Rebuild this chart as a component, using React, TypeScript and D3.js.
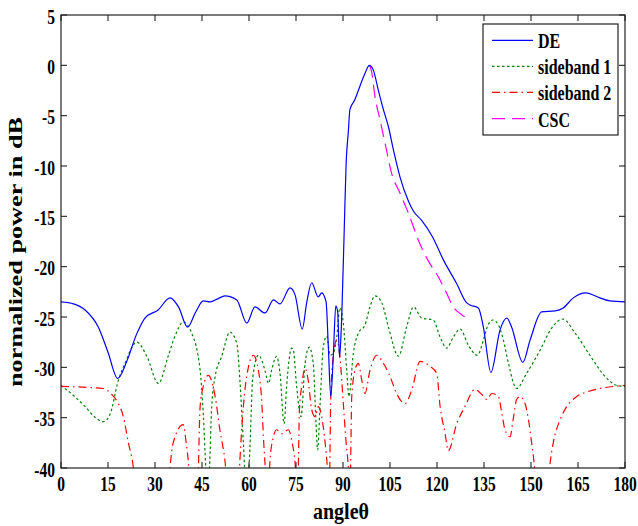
import React from "react";
import * as d3 from "d3";

const xTicks = [0, 15, 30, 45, 60, 75, 90, 105, 120, 135, 150, 165, 180];
const yTicks = [5, 0, -5, -10, -15, -20, -25, -30, -35, -40];

const seriesNames = ["DE", "sideband 1", "sideband 2", "CSC"];

const deAngles = [0, 4, 7.7, 11.9, 15, 18.1, 21, 24, 26.8, 31, 34.8, 37.5, 40.4, 43, 45.4, 47.6, 50, 52.3, 56.1, 59.3, 61.9, 65.1, 67.8, 69.9, 73.1, 74.7, 77.0, 78.4, 80.0, 82.1, 83.2, 84.6, 85.3, 86.1, 86.9, 87.7, 88.3, 88.9, 89.4, 90.3, 91.0, 91.7, 92.2, 93.8, 94.9, 97.0, 98.4, 99.7, 101.3, 102.9, 104.5, 106.1, 108.2, 110.9, 112.5, 115.1, 118.5, 122.0, 126.3, 129.5, 130.5, 133.2, 134.8, 137.2, 140.1, 142.3, 143.8, 147.4, 149.7, 153.4, 157.7, 160.3, 163.5, 167.5, 172.0, 175.2, 180];
const deValues = [-23.5, -23.7, -24.3, -26.0, -28.5, -31.1, -29.4, -26.8, -25.1, -24.3, -23.1, -24.0, -26.0, -24.5, -23.4, -23.5, -23.2, -22.9, -23.3, -25.6, -24.0, -24.6, -23.3, -23.7, -22.1, -22.8, -26.2, -23.6, -21.6, -23.0, -22.6, -23.5, -27.8, -32.9, -28.9, -23.9, -24.5, -29.0, -26.5, -17.4, -9.7, -6.6, -4.4, -3.4, -2.5, -0.8, 0, -0.5, -2.5, -4.4, -6.1, -8.4, -11.1, -13.5, -14.5, -15.4, -17.0, -19.3, -21.7, -23.6, -23.8, -24.1, -26.0, -30.5, -26.3, -25.1, -26.0, -29.5, -27.3, -24.5, -24.4, -24.1, -23.1, -22.6, -23.1, -23.4, -23.5];

const sb1Angles = [0, 4, 7.7, 11, 13.5, 15.6, 18.3, 20.4, 24.2, 27.4, 31.1, 34.2, 36.5, 39.0, 41.7, 44.4, 45.4, 46.2, 46.8, 47.4, 48.1, 49.2, 51.3, 53.9, 56.1, 57.1, 58.2, 59.3, 60.3, 61.2, 63.0, 65.1, 66.2, 67.2, 68.8, 69.9, 71.2, 72.0, 73.6, 74.1, 75.2, 76.6, 77.9, 79.2, 80.5, 81.4, 81.9, 82.7, 83.7, 84.8, 85.9, 86.9, 88.0, 89.0, 90.1, 91.2, 91.9, 93.3, 94.9, 97.0, 98.6, 100.2, 102.4, 104.5, 107.7, 110.3, 112.5, 115.1, 118.8, 121.0, 123.1, 125.2, 127.4, 130.0, 132.9, 134.8, 135.9, 137.8, 139.6, 141.2, 142.8, 145.4, 148.6, 152.9, 156.6, 160.1, 164.1, 168.8, 173.6, 177.4, 180];
const sb1Values = [-31.8, -32.8, -33.9, -35.0, -35.4, -34.7, -31.3, -29.6, -27.5, -28.9, -31.6, -28.9, -26.8, -25.5, -26.6, -30.3, -34.6, -39.9, -43, -40, -33.9, -30.9, -28.9, -26.5, -27.6, -31.3, -37.5, -43, -38, -31, -28.8, -30.3, -31.6, -30.3, -28.9, -30.6, -35.6, -31.9, -28.1, -28.2, -31.9, -34.9, -29.6, -28.0, -29.6, -35.6, -38.2, -33.6, -28.0, -26.9, -28.8, -28.6, -27.0, -24.1, -25.6, -30.3, -32.9, -28.6, -26.6, -25.8, -24.0, -22.9, -23.6, -26.0, -28.9, -26.0, -24.0, -25.1, -25.3, -27.0, -28.1, -27.0, -26.2, -27.8, -28.8, -27.3, -26.1, -25.3, -25.8, -27.3, -29.6, -32.1, -30.6, -28.3, -26.1, -25.2, -26.6, -28.8, -30.9, -31.8, -31.9];

const sb2Angles = [0, 13.5, 16.2, 18.3, 19.9, 21.5, 23.1, 24, 34, 34.8, 35.8, 39.0, 40.1, 40.6, 41.5, 43.5, 44.4, 45.4, 47.0, 49.2, 50.7, 52.3, 53.5, 56.5, 57.1, 58.2, 59.8, 61.4, 63.0, 64.1, 64.6, 65.1, 66, 66.7, 67.8, 68.8, 70.4, 72.6, 73.6, 74.7, 75.5, 76.1, 76.8, 77.9, 78.9, 80.0, 81.1, 82.1, 83.2, 84.3, 85.0, 85.6, 86.1, 86.9, 88.0, 89.0, 90.1, 91.0, 91.7, 92.2, 92.8, 93.8, 94.9, 96.0, 97.0, 98.6, 100.8, 102.9, 105.0, 107.1, 109.8, 111.9, 114.6, 117.8, 119.9, 121.0, 122.6, 123.6, 126.3, 128.9, 132.1, 134.3, 135.9, 137.5, 139.6, 140.7, 141.7, 143.3, 144.3, 145.4, 146.5, 148.1, 149.2, 150.2, 151.0, 152, 155, 156.1, 157.1, 159.3, 161.4, 164.6, 168.3, 172.0, 176.3, 180];
const sb2Values = [-31.9, -32.1, -32.7, -33.6, -34.9, -37.5, -40, -43, -43, -39.9, -37.5, -35.7, -37.9, -39.2, -43, -43, -33.9, -31.9, -30.8, -32.9, -36.2, -39.2, -43, -43, -39.2, -33.9, -30.0, -28.8, -30.3, -33.6, -36.9, -39.5, -43, -39.2, -36.9, -36.2, -36.6, -36.2, -37.2, -39.5, -43, -34.2, -31.9, -30.1, -31.3, -34.2, -34.9, -33.9, -34.9, -37.5, -39.9, -43, -32.9, -28.9, -27.3, -28.9, -33.6, -37.5, -39.9, -43, -32.9, -30.3, -29.6, -31.3, -32.6, -30.3, -28.8, -29.6, -30.9, -32.6, -33.6, -32.3, -29.4, -29.9, -30.6, -33.9, -36.6, -38.3, -35.6, -33.9, -32.2, -32.7, -33.2, -32.6, -32.9, -34.6, -36.2, -36.9, -35.2, -33.2, -32.9, -33.6, -35.2, -37.5, -39.5, -43, -43, -39.5, -37.5, -35.2, -33.9, -32.9, -32.4, -32.1, -31.9, -31.8];

const cscAngles = [98.4, 99.1, 100.2, 101.8, 103.4, 105.5, 108.2, 110.9, 114.1, 117.0, 120.4, 123.0, 125.2, 128.0, 130.5];
const cscValues = [0, -0.6, -3.1, -5.4, -7.7, -10.7, -12.7, -14.7, -17.4, -19.3, -21.0, -22.6, -24.0, -24.8, -25.3];

const FONT = "'Liberation Serif', 'Times New Roman', serif";

export default function App() {
  const left = 61, right = 625, top = 15, bottom = 468;
  const x = d3.scaleLinear().domain([0, 180]).range([left, right]);
  const y = d3.scaleLinear().domain([-40, 5]).range([bottom, top]);

  const mk = (a: number[], v: number[]) => {
    const line = d3
      .line<number>()
      .x((_, i) => x(a[i]))
      .y((d) => y(d))
      .curve(d3.curveMonotoneX);
    return line(v) || "";
  };

  const series = [
    { name: seriesNames[0], d: mk(deAngles, deValues), color: "#0000ff", dash: "none" },
    { name: seriesNames[1], d: mk(sb1Angles, sb1Values), color: "#008000", dash: "2.5,2.5" },
    { name: seriesNames[2], d: mk(sb2Angles, sb2Values), color: "#ff0000", dash: "8,4,1.5,4" },
    { name: seriesNames[3], d: mk(cscAngles, cscValues), color: "#ff00ff", dash: "13,7" },
  ];
  const drawOrder = [1, 2, 3, 0];

  const tl = 6;
  const legendBaselines = [48.3, 74.3, 100.3, 126.7];

  return (
    <svg width={638} height={526} style={{ position: "absolute", left: 0, top: 0, background: "#fff" }}>
      <defs>
        <clipPath id="plotclip">
          <rect x={left} y={top} width={right - left} height={bottom - top} />
        </clipPath>
      </defs>
      <rect x={0} y={0} width={638} height={526} fill="#fff" />
      <g clipPath="url(#plotclip)">
        {drawOrder.map((i) => (
          <path
            key={i}
            d={series[i].d}
            fill="none"
            stroke={series[i].color}
            strokeWidth={1.2}
            strokeDasharray={series[i].dash}
          />
        ))}
      </g>
      {/* frame */}
      <rect x={left} y={top} width={right - left} height={bottom - top} fill="none" stroke="#222" strokeWidth={1.2} />
      {/* ticks */}
      {xTicks.map((t) => (
        <g key={"xt" + t}>
          <line x1={x(t)} x2={x(t)} y1={bottom} y2={bottom - tl} stroke="#222" strokeWidth={1.1} />
          <line x1={x(t)} x2={x(t)} y1={top} y2={top + tl} stroke="#222" strokeWidth={1.1} />
          <text
            transform={`translate(${x(t)},491) scale(1,1.35)`}
            textAnchor="middle"
            fontFamily={FONT}
            fontWeight="bold"
            fontSize={15.5}
            fill="#000"
          >
            {t}
          </text>
        </g>
      ))}
      {yTicks.map((t) => (
        <g key={"yt" + t}>
          <line x1={left} x2={left + tl} y1={y(t)} y2={y(t)} stroke="#222" strokeWidth={1.1} />
          <line x1={right} x2={right - tl} y1={y(t)} y2={y(t)} stroke="#222" strokeWidth={1.1} />
          <text
            transform={`translate(55,${y(t) + 8.5}) scale(1,1.38)`}
            textAnchor="end"
            fontFamily={FONT}
            fontWeight="bold"
            fontSize={15.5}
            fill="#000"
          >
            {t}
          </text>
        </g>
      ))}
      {/* axis labels */}
      <text
        transform="translate(22,252) rotate(-90)"
        textAnchor="middle"
        fontFamily={FONT}
        fontWeight="bold"
        fontSize={18}
        textLength={270}
        lengthAdjust="spacingAndGlyphs"
        fill="#000"
      >
        normalized power in dB
      </text>
      <text
        x={341}
        y={519}
        textAnchor="middle"
        fontFamily={FONT}
        fontWeight="bold"
        fontSize={23}
        textLength={56}
        lengthAdjust="spacingAndGlyphs"
        fill="#000"
      >
        angleθ
      </text>
      {/* legend */}
      <rect x={483} y={24} width={135} height={111} fill="#fff" stroke="#222" strokeWidth={1.2} />
      {series.map((s, i) => (
        <g key={"lg" + i}>
          <line
            x1={492}
            x2={533}
            y1={legendBaselines[i] - 8}
            y2={legendBaselines[i] - 8}
            stroke={s.color}
            strokeWidth={1.2}
            strokeDasharray={s.dash}
          />
          <text
            transform={`translate(538,${legendBaselines[i]}) scale(1,1.25)`}
            fontFamily={FONT}
            fontWeight="bold"
            fontSize={16}
            fill="#000"
          >
            {s.name}
          </text>
        </g>
      ))}
    </svg>
  );
}
